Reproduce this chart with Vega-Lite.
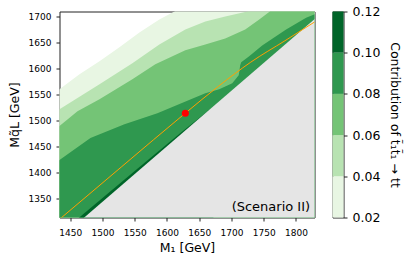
{
  "$schema": "https://vega.github.io/schema/vega-lite/v6.json",
  "padding": {"left": 7.5, "top": 4.5, "right": 2, "bottom": 2},
  "config": {
    "font": "DejaVu Sans",
    "view": {"stroke": "#222", "strokeWidth": 1},
    "axis": {"grid": false, "domain": false, "tickColor": "#222", "tickSize": 3.5, "labelColor": "#000", "titleColor": "#000", "titleFontWeight": "normal"}
  },
  "datasets": {
    "c02": [
      {"x": 1425, "y": 1552}, {"x": 1433.4, "y": 1560.1}, {"x": 1464.4, "y": 1588.8}, {"x": 1495.4, "y": 1613.6},
      {"x": 1526.3, "y": 1640.3}, {"x": 1557.3, "y": 1668.9}, {"x": 1588.2, "y": 1693.7}, {"x": 1611.5, "y": 1709.0},
      {"x": 1619.2, "y": 1714.7}, {"x": 1840, "y": 1720}
    ],
    "c04": [
      {"x": 1425, "y": 1515.5}, {"x": 1433.4, "y": 1522.0}, {"x": 1495.4, "y": 1569.7}, {"x": 1546.4, "y": 1609.8},
      {"x": 1588.2, "y": 1646.0}, {"x": 1628.5, "y": 1674.6}, {"x": 1659.5, "y": 1689.9}, {"x": 1690.4, "y": 1699.4},
      {"x": 1724.5, "y": 1709.0}, {"x": 1735.3, "y": 1714.7}, {"x": 1840, "y": 1720}
    ],
    "c06": [
      {"x": 1425, "y": 1481}, {"x": 1433.4, "y": 1489.5}, {"x": 1461.3, "y": 1518.2}, {"x": 1495.4, "y": 1541.1},
      {"x": 1546.4, "y": 1579.2}, {"x": 1582.0, "y": 1607.8}, {"x": 1628.5, "y": 1634.6}, {"x": 1659.5, "y": 1646.0},
      {"x": 1690.4, "y": 1657.5}, {"x": 1721.4, "y": 1674.6}, {"x": 1743.1, "y": 1693.7}, {"x": 1758.5, "y": 1708.0},
      {"x": 1766.3, "y": 1716.6}, {"x": 1840, "y": 1720}
    ],
    "c08": [
      {"x": 1425, "y": 1416}, {"x": 1433.4, "y": 1424.7}, {"x": 1481.4, "y": 1466.6}, {"x": 1534.1, "y": 1493.3},
      {"x": 1585.2, "y": 1514.3}, {"x": 1631.6, "y": 1538.2}, {"x": 1659.5, "y": 1552.5}, {"x": 1681.1, "y": 1560.1},
      {"x": 1701.3, "y": 1571.6}, {"x": 1711.3, "y": 1586.9}, {"x": 1713.6, "y": 1605.9}, {"x": 1715.2, "y": 1611.6},
      {"x": 1727.5, "y": 1623.1}, {"x": 1747.7, "y": 1644.1}, {"x": 1761.6, "y": 1655.5}, {"x": 1784.8, "y": 1674.6},
      {"x": 1815.8, "y": 1696.9}, {"x": 1828.2, "y": 1703.2}, {"x": 1840, "y": 1712}
    ],
    "c10": [
      {"x": 1430, "y": 1279}, {"x": 1470, "y": 1320.6}, {"x": 1550, "y": 1403.7}, {"x": 1620, "y": 1475.2},
      {"x": 1665, "y": 1520.1}, {"x": 1672, "y": 1524}
    ],
    "excluded": [
      {"x": 1420, "y": 1259.4}, {"x": 1840, "y": 1706.2}
    ],
    "orange": [
      {"x": 1430, "y": 1307.5}, {"x": 1530, "y": 1412}, {"x": 1628.5, "y": 1514.3}, {"x": 1680, "y": 1566},
      {"x": 1730, "y": 1612}, {"x": 1783, "y": 1653}, {"x": 1829, "y": 1689}, {"x": 1836, "y": 1694.5}
    ],
    "point": [{"x": 1628.5, "y": 1514.3}],
    "label": [{"x": 1822, "y": 1334, "text": "(Scenario II)"}],
    "bar": [
      {"lo": 0.02, "hi": 0.04, "band": "0.02-0.04"},
      {"lo": 0.04, "hi": 0.06, "band": "0.04-0.06"},
      {"lo": 0.06, "hi": 0.08, "band": "0.06-0.08"},
      {"lo": 0.08, "hi": 0.10, "band": "0.08-0.10"},
      {"lo": 0.10, "hi": 0.12, "band": "0.10-0.12"}
    ]
  },
  "spacing": 16,
  "hconcat": [
    {
      "width": 255,
      "height": 206,
      "encoding": {
        "x": {"field": "x", "type": "quantitative", "scale": {"domain": [1433.4, 1828.8], "nice": false, "zero": false},
              "axis": {"values": [1450, 1500, 1550, 1600, 1650, 1700, 1750, 1800], "format": "d", "labelFontSize": 9, "labelPadding": 7, "title": "M₁ [GeV]", "titleFontSize": 12.5, "titlePadding": 4.5, "labelFlush": false}},
        "y": {"field": "y", "type": "quantitative", "scale": {"domain": [1314.5, 1709], "nice": false, "zero": false},
              "axis": {"values": [1350, 1400, 1450, 1500, 1550, 1600, 1650, 1700], "format": "d", "labelFontSize": 9, "labelPadding": 5, "title": "Mq̃L [GeV]", "titleFontSize": 12.5, "titlePadding": 7, "labelFlush": false}}
      },
      "layer": [
        {"data": {"name": "c02"}, "mark": {"type": "area", "color": "#e8f6e3", "clip": true}, "encoding": {"y2": {"datum": 1250}}},
        {"data": {"name": "c04"}, "mark": {"type": "area", "color": "#b8e3b2", "clip": true}, "encoding": {"y2": {"datum": 1250}}},
        {"data": {"name": "c06"}, "mark": {"type": "area", "color": "#74c476", "clip": true}, "encoding": {"y2": {"datum": 1250}}},
        {"data": {"name": "c08"}, "mark": {"type": "area", "color": "#2f984f", "clip": true}, "encoding": {"y2": {"datum": 1250}}},
        {"data": {"name": "c10"}, "mark": {"type": "area", "color": "#006529", "clip": true}, "encoding": {"y2": {"datum": 1250}}},
        {"data": {"name": "excluded"}, "mark": {"type": "area", "color": "#e5e5e5", "clip": true}, "encoding": {"y2": {"datum": 1250}}},
        {"data": {"name": "orange"}, "mark": {"type": "line", "color": "#ff9f00", "strokeWidth": 1, "clip": true, "interpolate": "monotone"}, "encoding": {}},
        {"data": {"name": "point"}, "mark": {"type": "point", "filled": true, "color": "#ff0000", "size": 50, "opacity": 1}, "encoding": {}},
        {"data": {"name": "label"}, "mark": {"type": "text", "align": "right", "baseline": "middle", "fontSize": 13, "color": "#000"}, "encoding": {"text": {"field": "text"}}}
      ]
    },
    {
      "width": 11,
      "height": 206,
      "data": {"name": "bar"},
      "mark": {"type": "rect"},
      "encoding": {
        "x": {"datum": 0, "type": "quantitative", "scale": {"domain": [0, 1], "nice": false, "zero": false}, "axis": null},
        "x2": {"datum": 1},
        "y": {"field": "lo", "type": "quantitative", "scale": {"domain": [0.02, 0.12], "nice": false, "zero": false},
              "axis": {"orient": "right", "values": [0.02, 0.04, 0.06, 0.08, 0.10, 0.12], "format": ".2f", "labelFontSize": 12.5, "labelPadding": 5, "tickSize": 3.5, "title": "Contribution of t̃₁t̃₁ → tt", "titleFontSize": 12.5, "titlePadding": 8, "labelFlush": false}},
        "y2": {"field": "hi"},
        "color": {"field": "band", "type": "nominal", "legend": null,
                  "scale": {"domain": ["0.02-0.04", "0.04-0.06", "0.06-0.08", "0.08-0.10", "0.10-0.12"],
                            "range": ["#e8f6e3", "#b8e3b2", "#74c476", "#2f984f", "#006529"]}}
      }
    }
  ]
}
